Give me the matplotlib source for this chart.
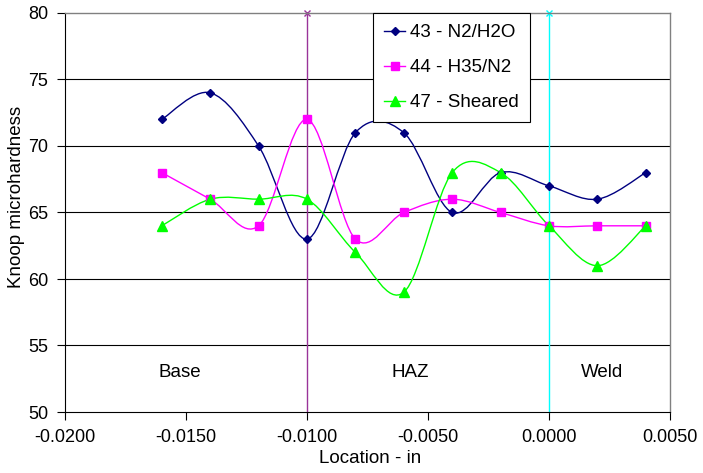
import numpy as np
import matplotlib
matplotlib.use("Agg")
import matplotlib.pyplot as plt
from matplotlib.path import Path
from matplotlib.patches import PathPatch
from matplotlib.lines import Line2D

plt.rcParams['font.family'] = ['Liberation Sans', 'DejaVu Sans']

location = [-0.016, -0.014, -0.012, -0.010, -0.008, -0.006, -0.004, -0.002, 0.000, 0.002, 0.004]
s43 = [72, 74, 70, 63, 71, 71, 65, 68, 67, 66, 68]
s44 = [68, 66, 64, 72, 63, 65, 66, 65, 64, 64, 64]
s47 = [64, 66, 66, 66, 62, 59, 68, 68, 64, 61, 64]
series_names = ["43 - N2/H2O", "44 - H35/N2", "47 - Sheared"]
boundaries = [-0.010, 0.000]
zone_labels = ["Base", "HAZ", "Weld"]
zone_x = [-0.01525, -0.00574, 0.00219]
zone_y = 53.0
xticks = [-0.02, -0.015, -0.01, -0.005, 0.0, 0.005]
yticks = [50, 55, 60, 65, 70, 75, 80]

colors = ["#000080", "#FF00FF", "#00FF00"]
markers = ["D", "s", "^"]
msizes = [4.5, 6, 6.5]
bcolors = ["#993399", "#00FFFF"]

fig = plt.figure(figsize=(7.03, 4.73), dpi=100)
ax = fig.add_axes([65/703, 1 - 412/473, (670-65)/703, (412-13)/473])
ax.set_xlim(-0.02, 0.005)
ax.set_ylim(50, 80)

def smooth_path(x, y):
    pts = np.column_stack([x, y]).astype(float)
    n = len(pts)
    verts = [pts[0]]
    codes = [Path.MOVETO]
    for i in range(n - 1):
        p0 = pts[i - 1] if i > 0 else pts[i]
        p1 = pts[i]
        p2 = pts[i + 1]
        p3 = pts[i + 2] if i + 2 < n else pts[i + 1]
        c1 = p1 + (p2 - p0) / 6.0
        c2 = p2 - (p3 - p1) / 6.0
        verts += [c1, c2, p2]
        codes += [Path.CURVE4] * 3
    return Path(verts, codes)

for yv in yticks[1:-1]:
    ax.axhline(yv, color="black", lw=0.8, zorder=1)

for bx, bc in zip(boundaries, bcolors):
    ax.plot([bx, bx], [50, 80], color=bc, lw=1.0, marker="x", markersize=5,
            markevery=[1], zorder=2, clip_on=False)

handles = []
for ys, c, m, ms, name in zip([s43, s44, s47], colors, markers, msizes, series_names):
    patch = PathPatch(smooth_path(location, ys), facecolor="none", edgecolor=c, lw=1.0, zorder=3)
    ax.add_patch(patch)
    ax.plot(location, ys, linestyle="none", marker=m, color=c, markersize=ms, zorder=4)
    handles.append(Line2D([], [], color=c, marker=m, markersize=ms, lw=1.0, label=name))

for t, xx in zip(zone_labels, zone_x):
    ax.text(xx, zone_y, t, ha="center", va="center", fontsize=13.5)

ax.set_xticks(xticks)
ax.set_xticklabels(["%.4f" % v for v in xticks])
ax.set_yticks(yticks)
ax.tick_params(labelsize=13, length=6, width=0.8, direction="out")
ax.tick_params(axis="x", pad=6)
ax.tick_params(axis="y", pad=6)
ax.set_xlabel("Location - in", fontsize=13.5)
ax.set_ylabel("Knoop microhardness", fontsize=13.5)
ax.xaxis.set_label_coords(0.504, -0.095)
ax.yaxis.set_label_coords(-0.066, 0.54)

for side in ["left", "bottom"]:
    ax.spines[side].set_color("black")
    ax.spines[side].set_linewidth(0.8)
for side in ["top", "right"]:
    ax.spines[side].set_color("#808080")
    ax.spines[side].set_linewidth(1.0)

leg = ax.legend(handles=handles, loc="upper left", bbox_to_anchor=(0.509, 1.0),
                fontsize=13.5, frameon=True, fancybox=False, edgecolor="black",
                framealpha=1, handlelength=1.1, handletextpad=0.3,
                labelspacing=0.95, borderpad=0.6, borderaxespad=0)
leg.get_frame().set_linewidth(0.8)
leg.set_zorder(5)

fig.savefig("out.png", dpi=100)
